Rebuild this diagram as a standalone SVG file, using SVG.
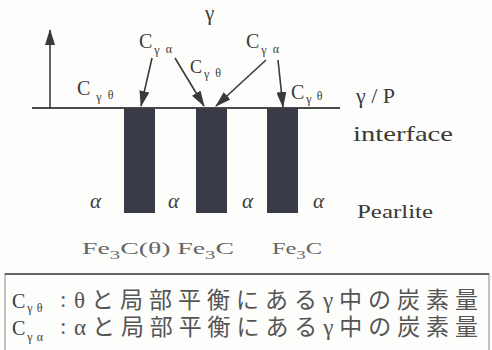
<svg xmlns="http://www.w3.org/2000/svg" width="492" height="350" viewBox="0 0 492 350" font-family="Liberation Serif, Times New Roman, DejaVu Serif, serif">
<defs>
<marker id="ah" viewBox="0 0 16 10" refX="15" refY="5" markerWidth="16" markerHeight="10" markerUnits="userSpaceOnUse" orient="auto">
<path d="M0,0 L16,5 L0,10 Z" fill="#3a3a3a"/>
</marker>
<style>
.t{fill:#3a3a3a}
.c{font-size:20px}
.s{font-size:12px}
.a{font-style:italic;font-size:21px;fill:#3a3a3a}
.fe{font-size:16px;fill:#666}
.jp{font-size:23px;fill:#555}
.bar{fill:#393c47}
.ln{stroke:#3a3a3a;stroke-width:1.6;fill:none}
</style>
</defs>
<rect width="492" height="350" fill="#fdfdfb"/>

<g id="interface-line">
<line x1="32" y1="108" x2="340" y2="108" stroke="#4a4a4a" stroke-width="2"/>
</g>

<g id="bar1"><rect class="bar" x="124" y="108" width="31" height="105"/></g>
<g id="bar2"><rect class="bar" x="196" y="108" width="31" height="105"/></g>
<g id="bar3"><rect class="bar" x="267" y="108" width="31" height="105"/></g>

<g id="connectors">
<line class="ln" x1="50" y1="108" x2="50" y2="30" marker-end="url(#ah)"/>
<line class="ln" x1="152" y1="58" x2="141" y2="106" marker-end="url(#ah)"/>
<line class="ln" x1="175" y1="58" x2="204" y2="106" marker-end="url(#ah)"/>
<line class="ln" x1="266" y1="60" x2="216" y2="106" marker-end="url(#ah)"/>
<line class="ln" x1="278" y1="60" x2="283" y2="107" marker-end="url(#ah)"/>
</g>

<g id="gamma"><text class="t" x="205" y="20" font-size="21">γ</text></g>

<g id="c-ga-left"><text class="t c" x="139" y="48">C<tspan class="s" dy="6" dx="2">γ</tspan><tspan class="s" dx="6" dy="-1">α</tspan></text></g>
<g id="c-gt-mid"><text class="t" x="190" y="73" font-size="18">C<tspan class="s" dy="5" dx="2">γ</tspan><tspan class="s" dx="6" dy="-1">θ</tspan></text></g>
<g id="c-ga-right"><text class="t c" x="246" y="48">C<tspan class="s" dy="6" dx="2">γ</tspan><tspan class="s" dx="6" dy="-1">α</tspan></text></g>
<g id="c-gt-right"><text class="t c" x="291" y="99">C<tspan class="s" dy="4" dx="2">γ</tspan><tspan class="s" dx="5" dy="-3">θ</tspan></text></g>
<g id="c-gt-left"><text class="t c" x="77" y="95">C<tspan class="s" dy="6" dx="6">γ</tspan><tspan class="s" dx="6" dy="-2">θ</tspan></text></g>

<g id="gp-label"><text class="t" x="356" y="103" font-size="22">γ / P</text></g>
<g id="interface-label"><text class="t" x="353" y="141" font-size="22" textLength="100" lengthAdjust="spacingAndGlyphs">interface</text></g>
<g id="pearlite-label"><text class="t" x="357" y="218" font-size="19" fill="#555" textLength="76" lengthAdjust="spacingAndGlyphs">Pearlite</text></g>

<g id="alpha-labels">
<text class="a" x="90" y="208">α</text>
<text class="a" x="168" y="208">α</text>
<text class="a" x="242" y="208">α</text>
<text class="a" x="313" y="208">α</text>
</g>

<g id="fe3c-labels">
<text class="fe" x="82" y="254" textLength="152" lengthAdjust="spacingAndGlyphs">Fe<tspan dy="5" font-size="12">3</tspan><tspan dy="-5">C(θ) Fe</tspan><tspan dy="5" font-size="12">3</tspan><tspan dy="-5">C</tspan></text>
<text class="fe" x="272" y="254" textLength="50" lengthAdjust="spacingAndGlyphs">Fe<tspan dy="5" font-size="12">3</tspan><tspan dy="-5">C</tspan></text>
</g>

<g id="legend">
<rect x="5" y="274" width="484" height="90" fill="none" stroke="#999" stroke-width="1.2"/>
<line x1="5" y1="274" x2="489" y2="274" stroke="#666" stroke-width="1.8"/>
<text class="t" x="12" y="308" font-size="20" fill="#555">C<tspan class="s" dy="4" dx="2">γ</tspan><tspan class="s" dx="4">θ</tspan></text>
<text class="jp" x="60" y="307">:</text>
<text class="jp" x="74" y="308" font-family="Liberation Serif, Noto Sans CJK JP, serif" textLength="404" lengthAdjust="spacing">θと局部平衡にあるγ中の炭素量</text>
<text class="t" x="12" y="335" font-size="20" fill="#555">C<tspan class="s" dy="6" dx="2">γ</tspan><tspan class="s" dx="4">α</tspan></text>
<text class="jp" x="60" y="334">:</text>
<text class="jp" x="74" y="335" font-family="Liberation Serif, Noto Sans CJK JP, serif" textLength="404" lengthAdjust="spacing">αと局部平衡にあるγ中の炭素量</text>
</g>
</svg>
